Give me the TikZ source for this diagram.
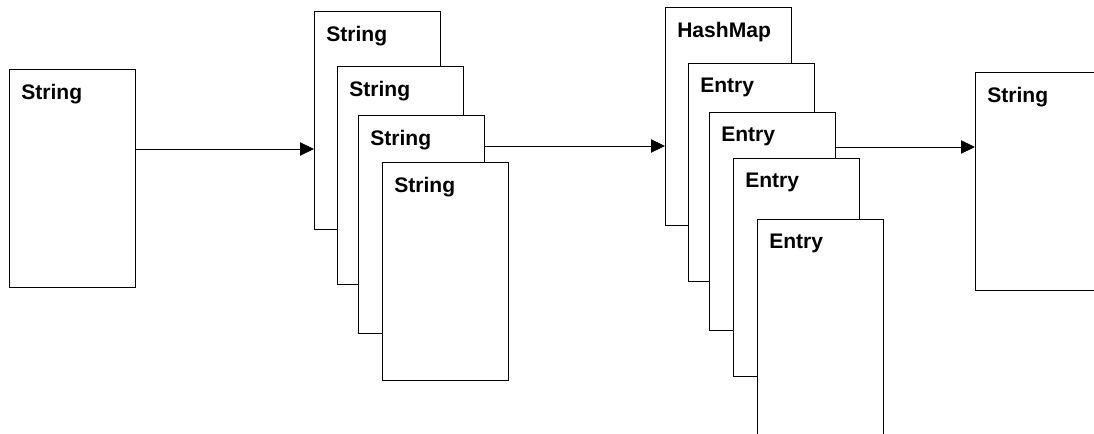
\documentclass[tikz,border=0pt]{standalone}
\usepackage{fontspec}
\setmainfont{Liberation Sans}
\usetikzlibrary{arrows.meta,positioning}

\begin{document}
\begin{tikzpicture}[
    x=0.75pt,y=-0.75pt,
    >={Triangle[length=10.5pt,width=10pt]},
    every node/.style={font=\fontsize{15.8}{19}\selectfont\bfseries},
    obj/.style={draw,line width=1.1pt,fill=white,minimum width=94.5pt,minimum height=163.5pt,anchor=north west,inner sep=0pt},
    lbl/.style={anchor=north west,inner sep=0pt,xshift=9pt,yshift=-11pt},
    link/.style={->,line width=0.6pt}
  ]
  \useasboundingbox (0,0) rectangle (1094,434);
  \clip (0,0) rectangle (1094,434);
  %% Source object
  \node[obj,label={[lbl]north west:String}] (str0) at (9,69) {};
  %% Stack of strings
  \node[obj,label={[lbl]north west:String}] (strA) at (314,11) {};
  \node[obj,label={[lbl]north west:String}] (strB) at (337,66) {};
  \node[obj,label={[lbl]north west:String}] (strC) at (358,115) {};
  \node[obj,label={[lbl]north west:String}] (strD) at (382,162) {};
  %% Map with entries
  \node[obj,label={[lbl]north west:HashMap}] (map) at (665,7) {};
  \node[obj,label={[lbl]north west:Entry}] (ent1) at (688,63) {};
  \node[obj,label={[lbl]north west:Entry}] (ent2) at (709,112) {};
  \node[obj,label={[lbl]north west:Entry}] (ent3) at (733,158) {};
  \node[obj,label={[lbl]north west:Entry}] (ent4) at (757,219) {};
  %% Result object
  \node[obj,label={[lbl]north west:String}] (str1) at (975,72) {};
  %% Links
  \coordinate (y1) at (0,149);
  \coordinate (y2) at (0,146);
  \coordinate (y3) at (0,147);
  \draw[link] (str0.east |- y1) -- (strA.west |- y1);
  \draw[link] (strC.east |- y2) -- (map.west |- y2);
  \draw[link] (ent2.east |- y3) -- (str1.west |- y3);
\end{tikzpicture}
\end{document}
